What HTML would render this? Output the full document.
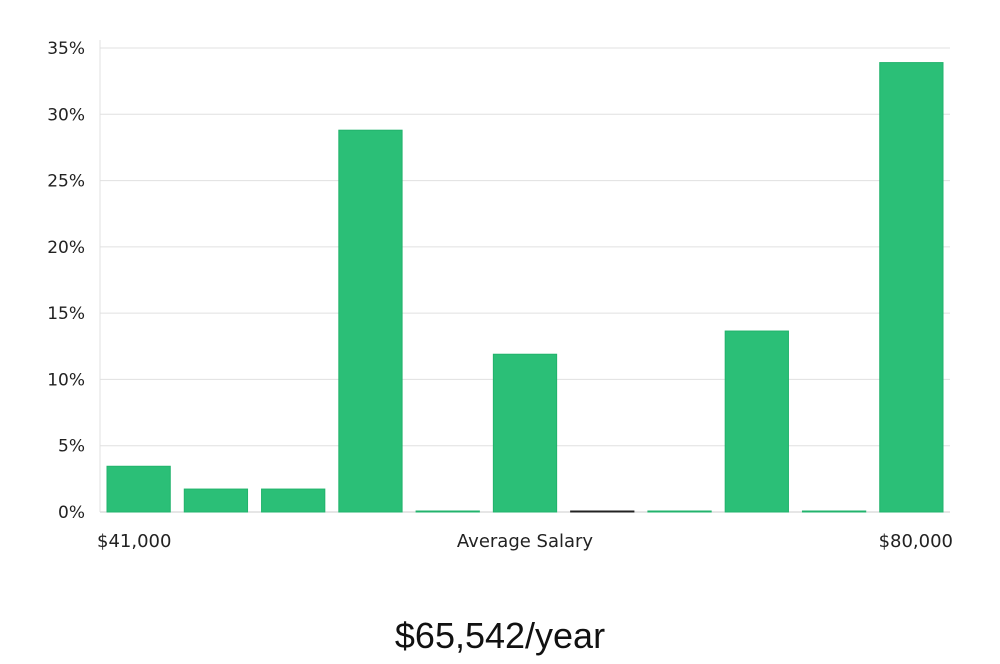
<!DOCTYPE html>
<html><head><meta charset="utf-8"><style>
body{margin:0;background:#fff;width:1000px;height:660px;overflow:hidden;font-family:"DejaVu Sans","Liberation Sans",sans-serif}
</style></head><body>
<svg width="1000" height="660" id="c"></svg>
<script>
const categories=["b1","b2","b3","b4","b5","b6","b7","b8","b9","b10","b11"];
const values=[3.45,1.73,1.73,28.8,0,11.9,0,0,13.65,0,33.9];
const darkBars=[false,false,false,false,false,false,true,false,false,false,false];
const yTicks=[0,5,10,15,20,25,30,35];
const xLeftLabel="$41,000", xRightLabel="$80,000", xTitle="Average Salary", salary="$65,542/year";
const NS="http://www.w3.org/2000/svg", svg=document.getElementById('c');
const X0=100,X1=950,Y0=512,Y35=48;
const y=v=>Y0-(v/35)*(Y0-Y35);
const step=(X1-X0)/categories.length;
function el(t,a,txt){const e=document.createElementNS(NS,t);for(const k in a)e.setAttribute(k,a[k]);if(txt!=null)e.textContent=txt;svg.appendChild(e);return e;}
yTicks.forEach(t=>{
 const g=el('line',{x1:X0,x2:X1,y1:y(t),y2:y(t),stroke:t===0?'#ccc':'#e0e0e0','stroke-width':1});
 
 const l=el('text',{x:85,y:y(t)+6,'text-anchor':'end','font-size':17,fill:'#222'},t+'%');
 
});
const ax=el('line',{x1:X0,x2:X0,y1:40,y2:Y0,stroke:'#e0e0e0'});

values.forEach((v,i)=>{
 const x=X0+i*step+7,w=step-14,top=y(v),h=Math.max(Y0-top,1);
 const r=el('rect',{x:x,y:Y0-h,width:w,height:h,fill:darkBars[i]?'#222':'#2bbf77',stroke:darkBars[i]?'#222':'#22b36c','stroke-width':1});
 
});
let t=el('text',{x:97,y:547,'font-size':18,fill:'#222'},xLeftLabel);
t=el('text',{x:953,y:547,'font-size':18,fill:'#222','text-anchor':'end'},xRightLabel);
t=el('text',{x:525,y:547,'font-size':18,fill:'#222','text-anchor':'middle'},xTitle);
t=el('text',{x:500,y:648,'font-size':36,fill:'#111','text-anchor':'middle','font-family':'Liberation Sans Narrow, Liberation Sans, sans-serif'},salary);
</script>
</body></html>
